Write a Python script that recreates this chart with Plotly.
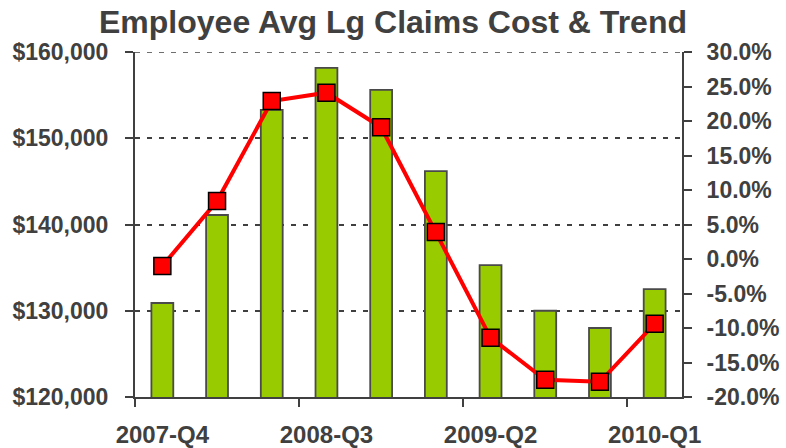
import plotly.graph_objects as go

categories = ["2007-Q4", "2008-Q1", "2008-Q2", "2008-Q3", "2008-Q4",
              "2009-Q1", "2009-Q2", "2009-Q3", "2009-Q4", "2010-Q1"]
avg_cost = [130900, 141100, 153300, 158150, 155600, 146200, 135300, 130000, 128000, 132500]
trend_pct = [-1.0, 8.4, 22.9, 24.1, 19.1, 3.9, -11.4, -17.5, -17.8, -9.4]

left_ticks = [120000, 130000, 140000, 150000, 160000]
left_ticktext = [f"${v:,}" for v in left_ticks]
right_ticks = [-20, -15, -10, -5, 0, 5, 10, 15, 20, 25, 30]
right_ticktext = [f"{v:.1f}%" for v in right_ticks]
label_idx = [0, 3, 6, 9]

x = list(range(len(categories)))
FONT = "Liberation Sans, Arial, sans-serif"
DARK = "#404040"

fig = go.Figure()
fig.add_trace(go.Bar(
    x=x, y=avg_cost, width=0.4,
    marker=dict(color="#99CC00", line=dict(color="#4a4a4a", width=1.8)),
    yaxis="y", showlegend=False,
))
fig.add_trace(go.Scatter(
    x=x, y=trend_pct, yaxis="y2", mode="lines+markers",
    line=dict(color="#FF0000", width=4),
    marker=dict(symbol="square", size=17, color="#FF0000",
                line=dict(color="#000000", width=1.5)),
    showlegend=False,
))

# dashed gridline at the top value of the left axis
fig.add_shape(type="line", xref="paper", x0=0, x1=1,
              yref="y", y0=left_ticks[-1], y1=left_ticks[-1],
              line=dict(color=DARK, width=1.5, dash="5px,7px"), layer="below")

fig.update_layout(
    width=786, height=448,
    margin=dict(l=135, r=104, t=52, b=51),
    paper_bgcolor="white", plot_bgcolor="white",
    title=dict(text="Employee Avg Lg Claims Cost & Trend",
               font=dict(family=FONT, size=32, color=DARK, weight="bold"),
               x=0.50, xanchor="center", y=0.952, yanchor="middle"),
    xaxis=dict(
        range=[-0.5, 9.5], automargin=False,
        tickmode="array",
        tickvals=[x[i] for i in label_idx],
        ticktext=[categories[i] for i in label_idx],
        ticks="", showgrid=False, zeroline=False,
        showline=True, linecolor=DARK, linewidth=2,
        tickfont=dict(family=FONT, size=24, color=DARK, weight="bold"),
        ticklabelstandoff=15,
        minor=dict(tickmode="array", tickvals=[-0.5, 2.5, 5.5, 8.5],
                   ticks="outside", ticklen=8, tickcolor=DARK, tickwidth=2,
                   showgrid=False),
    ),
    yaxis=dict(
        range=[120000, 160000], automargin=False,
        tickmode="array", tickvals=left_ticks, ticktext=left_ticktext,
        ticks="outside", ticklen=8, tickcolor=DARK, tickwidth=2,
        showline=True, linecolor=DARK, linewidth=2,
        showgrid=True, gridcolor=DARK, gridwidth=1.5, griddash="5px,7px",
        zeroline=False, ticklabelstandoff=12,
        tickfont=dict(family=FONT, size=23, color=DARK, weight="bold"),
    ),
    yaxis2=dict(
        range=[-20, 30], overlaying="y", side="right", automargin=False,
        tickmode="array", tickvals=right_ticks, ticktext=right_ticktext,
        ticks="outside", ticklen=8, tickcolor=DARK, tickwidth=2,
        showline=True, linecolor=DARK, linewidth=2,
        showgrid=False, zeroline=False, ticklabelstandoff=10,
        tickfont=dict(family=FONT, size=23, color=DARK, weight="bold"),
    ),
)

fig.write_html("out.html", config={"displayModeBar": False},
               post_script="document.body.style.margin='0';")
